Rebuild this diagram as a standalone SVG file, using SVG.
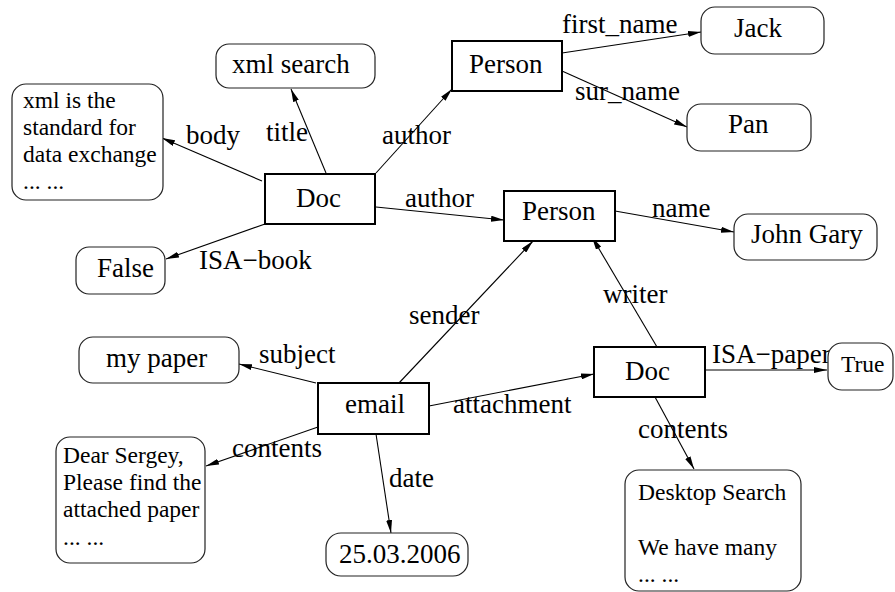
<svg xmlns="http://www.w3.org/2000/svg" width="895" height="592" viewBox="0 0 895 592" font-family="'Liberation Serif', 'DejaVu Serif', serif">
<style>
text{font-family:'Liberation Serif','DejaVu Serif',serif;fill:#000}
.t{font-size:27px}
.s{font-size:23.5px}
.lab{font-size:27px}
.ent{fill:#fff;stroke:#000;stroke-width:2}
.val{fill:#fff;stroke:#222;stroke-width:1.2}
.e line{stroke:#000;stroke-width:1.1;marker-end:url(#ah)}
</style>
<defs>
<marker id="ah" markerUnits="userSpaceOnUse" viewBox="0 0 13 6" refX="13" refY="3" markerWidth="13" markerHeight="6" orient="auto">
<path d="M0,0 L13,3 L0,6 z" fill="#000"/>
</marker>
</defs>
<rect width="895" height="592" fill="#fff"/>
<g id="connectors" class="e">
<line x1="326" y1="173" x2="291" y2="89"/>
<line x1="376" y1="173" x2="452" y2="89"/>
<line x1="262" y1="181" x2="162" y2="138"/>
<line x1="265" y1="224" x2="166" y2="259"/>
<line x1="376" y1="207" x2="504" y2="220"/>
<line x1="562" y1="53" x2="701" y2="32"/>
<line x1="562" y1="71" x2="687" y2="127"/>
<line x1="615" y1="211" x2="734" y2="232"/>
<line x1="399" y1="383" x2="533" y2="241"/>
<line x1="657" y1="347" x2="592" y2="237"/>
<line x1="316" y1="383" x2="239" y2="364"/>
<line x1="318" y1="427" x2="206" y2="466"/>
<line x1="376" y1="434" x2="391" y2="533"/>
<line x1="429" y1="406" x2="594" y2="374"/>
<line x1="705" y1="370" x2="827" y2="370"/>
<line x1="655" y1="397" x2="694" y2="469"/>
</g>
<g id="labels">
<text class="lab" x="266" y="141">title</text>
<text class="lab" x="186" y="144">body</text>
<text class="lab" x="382" y="144">author</text>
<text class="lab" x="405" y="207">author</text>
<text class="lab" x="199" y="269">ISA−book</text>
<text class="lab" x="562" y="33">first_name</text>
<text class="lab" x="575" y="100">sur_name</text>
<text class="lab" x="652" y="217">name</text>
<text class="lab" x="603" y="303">writer</text>
<text class="lab" x="409" y="324">sender</text>
<text class="lab" x="259" y="363">subject</text>
<text class="lab" x="712" y="363">ISA−paper</text>
<text class="lab" x="453" y="413">attachment</text>
<text class="lab" x="232" y="457">contents</text>
<text class="lab" x="389" y="487">date</text>
<text class="lab" x="638" y="438">contents</text>
</g>
<g id="xmlsearch"><rect class="val" x="216" y="44" width="159" height="44" rx="13"/><text class="t" x="232" y="73">xml search</text></g>
<g id="body"><rect class="val" x="12" y="84" width="151" height="116" rx="14"/>
<text class="s" x="23" y="108">xml is the</text>
<text class="s" x="23" y="135">standard for</text>
<text class="s" x="23" y="162">data exchange</text>
<text class="s" x="23" y="189">... ...</text></g>
<g id="doc1"><rect class="ent" x="265" y="174" width="110" height="50"/><text class="t" x="296" y="207">Doc</text></g>
<g id="false"><rect class="val" x="76" y="247" width="89" height="47" rx="13"/><text class="t" x="97" y="277">False</text></g>
<g id="person1"><rect class="ent" x="452" y="41" width="110" height="50"/><text class="t" x="469" y="73">Person</text></g>
<g id="jack"><rect class="val" x="701" y="7" width="123" height="47" rx="14"/><text class="t" x="734" y="37">Jack</text></g>
<g id="pan"><rect class="val" x="687" y="104" width="124" height="47" rx="14"/><text class="t" x="728" y="133">Pan</text></g>
<g id="person2"><rect class="ent" x="504" y="191" width="111" height="50"/><text class="t" x="522" y="220">Person</text></g>
<g id="johngary"><rect class="val" x="734" y="214" width="143" height="46" rx="14"/><text class="t" x="751" y="243">John Gary</text></g>
<g id="mypaper"><rect class="val" x="79" y="337" width="160" height="46" rx="14"/><text class="t" x="106" y="367">my paper</text></g>
<g id="email"><rect class="ent" x="318" y="383" width="111" height="51"/><text class="t" x="345" y="413">email</text></g>
<g id="dear"><rect class="val" x="56" y="437" width="149" height="126" rx="14"/>
<text class="s" x="63" y="463">Dear Sergey,</text>
<text class="s" x="63" y="490">Please find the</text>
<text class="s" x="63" y="517">attached paper</text>
<text class="s" x="63" y="545">... ...</text></g>
<g id="date"><rect class="val" x="326" y="533" width="142" height="43" rx="15"/><text class="t" x="339" y="563">25.03.2006</text></g>
<g id="doc2"><rect class="ent" x="594" y="347" width="111" height="50"/><text class="t" x="625" y="380">Doc</text></g>
<g id="true"><rect class="val" x="828" y="343" width="65" height="47" rx="14"/><text class="s" x="841" y="372">True</text></g>
<g id="desktop"><rect class="val" x="625" y="470" width="176" height="121" rx="14"/>
<text class="s" x="638" y="500">Desktop Search</text>
<text class="s" x="638" y="555">We have many</text>
<text class="s" x="638" y="582">... ...</text></g>
</svg>
